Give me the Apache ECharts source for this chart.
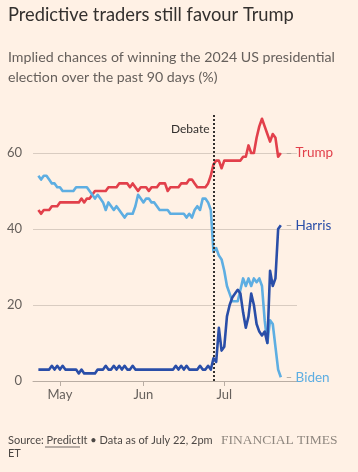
<!DOCTYPE html>
<html>
<head>
<meta charset="utf-8">
<script src="https://cdn.jsdelivr.net/npm/echarts@6/dist/echarts.min.js"></script>
<style>
html,body{margin:0;padding:0;background:#fff1e5;}
#c{width:358px;height:472px;}
</style>
</head>
<body>
<div id="c"></div>
<script>
const dates = [
'2024-04-23','2024-04-24','2024-04-25','2024-04-26','2024-04-27','2024-04-28','2024-04-29','2024-04-30',
'2024-05-01','2024-05-02','2024-05-03','2024-05-04','2024-05-05','2024-05-06','2024-05-07','2024-05-08','2024-05-09','2024-05-10',
'2024-05-11','2024-05-12','2024-05-13','2024-05-14','2024-05-15','2024-05-16','2024-05-17','2024-05-18','2024-05-19','2024-05-20',
'2024-05-21','2024-05-22','2024-05-23','2024-05-24','2024-05-25','2024-05-26','2024-05-27','2024-05-28','2024-05-29','2024-05-30','2024-05-31',
'2024-06-01','2024-06-02','2024-06-03','2024-06-04','2024-06-05','2024-06-06','2024-06-07','2024-06-08','2024-06-09','2024-06-10',
'2024-06-11','2024-06-12','2024-06-13','2024-06-14','2024-06-15','2024-06-16','2024-06-17','2024-06-18','2024-06-19','2024-06-20',
'2024-06-21','2024-06-22','2024-06-23','2024-06-24','2024-06-25','2024-06-26','2024-06-27','2024-06-28','2024-06-29','2024-06-30',
'2024-07-01','2024-07-02','2024-07-03','2024-07-04','2024-07-05','2024-07-06','2024-07-07','2024-07-08','2024-07-09','2024-07-10',
'2024-07-11','2024-07-12','2024-07-13','2024-07-14','2024-07-15','2024-07-16','2024-07-17','2024-07-18','2024-07-19','2024-07-20',
'2024-07-21','2024-07-22'
];
const trump = [
45,44,45,45,45,46,46,46,47,47,47,47,47,47,47,47,48,47,48,48,
49,50,50,50,50,50,51,51,51,51,52,52,52,52,51,52,51,50,51,51,
51,50,51,51,51,52,52,52,50,51,51,51,51,52,52,52,53,53,52,51,
51,51,51,52,54,57,58,58,56,58,58,58,58,58,58,58,59,59,62,60,
60,64,67,69,67,65,63,65,64,59,60
];
const biden = [
54,53,54,54,53,52,52,51,51,50,50,50,50,50,51,51,51,51,51,50,
49,48,49,48,47,45,47,46,45,46,45,44,43,44,44,44,46,49,48,47,
48,48,47,47,46,45,45,45,45,44,44,44,44,44,44,43,44,43,45,46,
45,48,48,47,45,34,35,33,32,29,25,23,21,21,21,24,27,25,27,25,
27,26,27,25,16,10,16,15,9,3,1
];
const harris = [
3,3,3,3,3,4,3,4,3,4,3,3,3,3,3,2,3,2,2,2,
2,2,3,3,3,4,3,3,4,3,4,3,4,3,3,4,3,3,3,3,
3,3,3,3,3,3,3,3,3,3,3,4,3,4,3,4,3,3,3,3,
4,3,3,4,3,6,5,14,8,9,17,20,22,23,24,23,18,14,17,23,
20,15,13,12,13,10,29,25,27,40,41
];
const seriesNames = ['Trump','Biden','Harris'];
const seriesColors = ['#e2404b','#5eaee2','#2a4ea8'];
const yTicks = [0,20,40,60];
const xTickDates = ['2024-05-01','2024-06-01','2024-07-01'];
const xTickLabels = ['May','Jun','Jul'];
const debateDate = '2024-06-27';
const debateLabel = 'Debate';
const xMinDate = '2024-04-21';
const xMaxDate = '2024-07-28';

function ts(s){const p=s.split('-').map(Number);return new Date(p[0],p[1]-1,p[2]).getTime();}
const tickTs = xTickDates.map(ts);

const chart = echarts.init(document.getElementById('c'), null, {renderer:'canvas'});
const font = 'Lato, "Open Sans", sans-serif';
const seriesData = [trump, biden, harris];
const series = seriesNames.map((name,i)=>({
  name, type:'line', showSymbol:false, symbol:'none',
  data: dates.map((d,j)=>[ts(d), seriesData[i][j]]),
  lineStyle:{color:seriesColors[i], width:2.6, join:'round'},
  itemStyle:{color:seriesColors[i]},
  z: 3+i,
  endLabel:{
    show:true, distance:5,
    formatter: '{d|–} {n|'+name+'}',
    rich:{
      d:{color:'#a89e95', fontSize:11, fontFamily:font},
      n:{color:seriesColors[i], fontSize:13.5, fontFamily:font}
    }
  },
  animation:false
}));
series[0].markLine = {
  symbol:'none', silent:true, animation:false,
  lineStyle:{color:'#33302e', type:[2,2], width:2},
  label:{show:true, position:'end', formatter:debateLabel, color:'#33302e', fontSize:12, fontFamily:font, align:'right', offset:[-4,25]},
  data:[{xAxis: ts(debateDate)}]
};

chart.setOption({
  backgroundColor:'#fff1e5',
  animation:false,
  title:[
    {text:'Predictive traders still favour Trump', left:8, top:6, padding:0,
     textStyle:{color:'#33302e', fontSize:18.3, fontWeight:'normal', fontFamily:font}},
    {text:'Implied chances of winning the 2024 US presidential\nelection over the past 90 days (%)', left:8, top:47, padding:0,
     textStyle:{color:'#66605c', fontSize:14.2, fontWeight:'normal', fontFamily:font, lineHeight:20}},
    {text:'Source: PredictIt • Data as of July 22, 2pm\nET', left:8, top:434, padding:0,
     textStyle:{color:'#4d4845', fontSize:11, fontWeight:'normal', fontFamily:font, lineHeight:13}},
    {text:'FINANCIAL TIMES', left:221, top:433, padding:0,
     textStyle:{color:'#8f877f', fontSize:13.5, fontWeight:'normal', fontFamily:'"Liberation Serif", "DejaVu Serif", serif'}}
  ],
  graphic:[{type:'line', shape:{x1:45,y1:447,x2:80,y2:447}, style:{stroke:'#4d4845', lineWidth:0.8}}],
  grid:{left:33, right:61, top:115, bottom:91, containLabel:false},
  xAxis:{
    type:'value', min:ts(xMinDate), max:ts(xMaxDate),
    axisLine:{show:true, lineStyle:{color:'#b9ada3', width:1}},
    axisTick:{show:true, customValues:tickTs, length:5, lineStyle:{color:'#b9ada3'}},
    axisLabel:{customValues:tickTs, color:'#66605c', fontSize:13, fontFamily:font, margin:7,
      formatter:(v)=>{const k=tickTs.indexOf(v);return k>=0?xTickLabels[k]:'';}},
    splitLine:{show:false}
  },
  yAxis:{
    type:'value', min:0, max:70, interval:20,
    axisLine:{show:false}, axisTick:{show:false},
    axisLabel:{customValues:yTicks, color:'#66605c', fontSize:13, fontFamily:font, margin:11},
    splitLine:{show:true, showMaxLine:false, showMinLine:false, lineStyle:{color:'#d9ccc1', width:1}}
  },
  series
});
</script>
</body>
</html>
